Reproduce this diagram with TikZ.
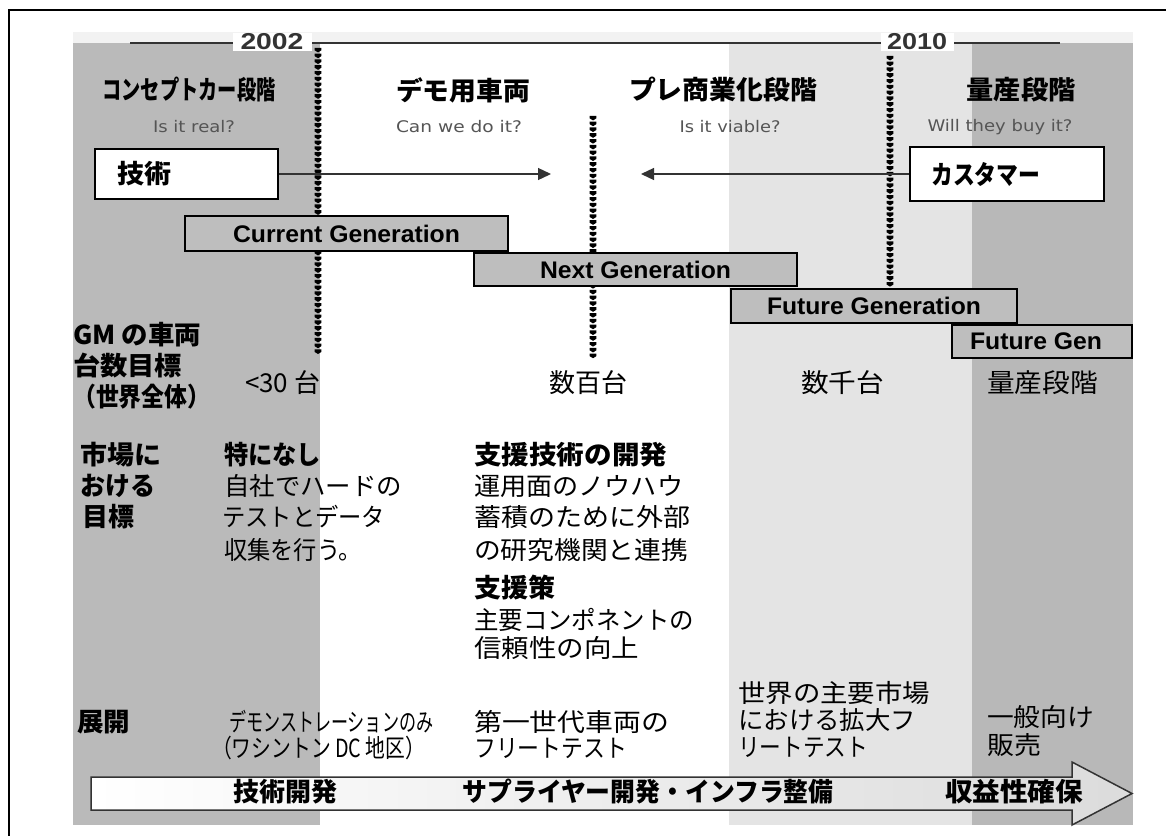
\documentclass[tikz,border=0pt]{standalone}
\usepackage{fontspec}
\setmainfont{Noto Sans CJK JP}
\newfontfamily\latf{Liberation Sans}
\newfontfamily\subf{DejaVu Sans}
\usetikzlibrary{decorations.markings,arrows.meta}
\newcommand\fw[2]{\resizebox{#1pt}{\height}{#2}}
\definecolor{dgray}{HTML}{BABABA}
\definecolor{rgray}{HTML}{B8B8B8}
\definecolor{lgray}{HTML}{E4E4E4}
\definecolor{stripc}{HTML}{F2F2F2}
\definecolor{gengray}{HTML}{BEBEBE}
\definecolor{subgray}{HTML}{555555}
\definecolor{linegray}{HTML}{333333}
\tikzset{
  hdr/.style={inner sep=0pt, font=\fontsize{26}{26}\selectfont\bfseries},
  sub/.style={inner sep=0pt, font=\subf\fontsize{16}{16}\selectfont, text=subgray},
  keybox/.style={draw=black, line width=1.5pt, fill=white, inner sep=0pt},
  gen/.style={draw=black, line width=1.5pt, fill=gengray, inner sep=0pt,
    font=\latf\bfseries\fontsize{24}{24}\selectfont},
  rowb/.style={inner sep=0pt, anchor=west, font=\fontsize{26}{26}\selectfont\bfseries},
  rown/.style={inner sep=0pt, anchor=west, font=\fontsize{25}{25}\selectfont},
  val/.style={inner sep=0pt, font=\fontsize{26}{26}\selectfont},
  yearlbl/.style={fill=white, inner sep=0pt, minimum height=18pt,
    font=\latf\bfseries\fontsize{23}{23}\selectfont, text=linegray},
  conn/.style={line width=1.3pt, draw=linegray, -{Triangle[length=13pt,width=12pt]}},
  vdots/.style={postaction={decorate}, decoration={markings,
    mark=between positions 0 and 1 step 5.8pt with {\fill[black] (-2.2pt,-3.3pt) -- (-2.2pt,3.3pt) -- (0.4pt,3.3pt) -- (2.4pt,0pt) -- (0.4pt,-3.3pt) -- cycle;}}},
  bigarrow/.style={draw=linegray, line width=1.5pt, left color=white, right color=black!14},
}
\begin{document}
\begin{tikzpicture}[x=1pt,y=-1pt]
\useasboundingbox (0,0) rectangle (1166,836);
% frame
\draw[line width=2pt] (1166,10) -- (9,10) -- (9,836);
% background panel
\fill[stripc] (73,32) rectangle (1133,43);
\fill[dgray] (73,43) rectangle (320,825);
\fill[white] (320,43) rectangle (729,825);
\fill[lgray] (729,43) rectangle (972,825);
\fill[rgray] (972,43) rectangle (1133,825);
% timeline
\coordinate (tl1) at (130,43);
\coordinate (tl2) at (1060,43);
\draw[line width=1.8pt, linegray] (tl1) -- (tl2);
\node[yearlbl, minimum width=79pt] (y2002) at (272,42) {\fw{63}{2002}};
\node[yearlbl, minimum width=73pt] (y2010) at (917,42) {\fw{60}{2010}};
% dotted separators
\coordinate (d1a) at (318,50);  \coordinate (d1b) at (318,353);
\coordinate (d2a) at (593,118); \coordinate (d2b) at (593,357);
\coordinate (d3a) at (890,58);  \coordinate (d3b) at (890,289);
\path[vdots] (d1a) -- (d1b);
\path[vdots] (d2a) -- (d2b);
\path[vdots] (d3a) -- (d3b);
% headers
\node[hdr] (h1) at (189,90) {\fw{173}{コンセプトカー段階}};
\node[hdr] (h2) at (463,90) {\fw{134}{デモ用車両}};
\node[hdr] (h3) at (723,90) {\fw{188}{プレ商業化段階}};
\node[hdr] (h4) at (1021,90) {\fw{109}{量産段階}};
\node[sub] (s1) at (194,127) {\fw{82}{Is it real?}};
\node[sub] (s2) at (459,127) {\fw{126}{Can we do it?}};
\node[sub] (s3) at (730,127) {\fw{101}{Is it viable?}};
\node[sub] (s4) at (1000,127) {\fw{145}{Will they buy it?}};
% key boxes and arrows
\node[keybox, minimum width=183pt, minimum height=50pt] (tech) at (186.5,174) {};
\node[rowb] (techt) at (117,174) {\fw{54}{技術}};
\node[keybox, minimum width=194pt, minimum height=54pt] (cust) at (1007,174) {};
\node[rowb] (custt) at (931,174) {\fw{109}{カスタマー}};
\coordinate (tip1) at (551,174);
\coordinate (tip2) at (641,174);
\draw[conn] (tech.east) -- (tip1);
\draw[conn] (cust.west) -- (tip2);
% generation boxes
\node[gen, minimum width=323pt, minimum height=35pt] (cur) at (346.5,233.5) {\fw{227}{Current Generation}};
\node[gen, minimum width=323pt, minimum height=33pt] (nxt) at (635.5,269.5) {\fw{191}{Next Generation}};
\node[gen, minimum width=286pt, minimum height=34pt] (fut) at (874,306) {\fw{214}{Future Generation}};
\node[gen, minimum width=180pt, minimum height=33pt] (futg) at (1042,341.5) {\hspace*{-12pt}\fw{132}{Future Gen}};
% GM row
\node[rowb] (g1) at (73,335) {\fw{128}{GM の車両}};
\node[rowb] (g2) at (73,366) {\fw{109}{台数目標}};
\node[rowb] (g3) at (73,397) {\fw{137}{（世界全体）}};
\node[val] (v1) at (282.5,383) {\fw{75}{<30 台}};
\node[val] (v2) at (588,383) {\fw{78}{数百台}};
\node[val] (v3) at (842.5,383) {\fw{83}{数千台}};
\node[val] (v4) at (1042.5,383) {\fw{111}{量産段階}};
% market row
\node[rowb] (m1) at (80,455) {\fw{81}{市場に}};
\node[rowb] (m2) at (80,486) {\fw{75}{おける}};
\node[rowb] (m3) at (82,517) {\fw{52}{目標}};
\node[rowb] (t1) at (224,455) {\fw{97}{特になし}};
\node[rown] (t2) at (224,486) {\fw{178}{自社でハードの}};
\node[rown] (t3) at (222,517) {\fw{163}{テストとデータ}};
\node[rown] (t4) at (224,550) {\fw{138}{収集を行う。}};
\node[rowb] (p1) at (474,455) {\fw{193}{支援技術の開発}};
\node[rown] (p2) at (474,486) {\fw{209}{運用面のノウハウ}};
\node[rown] (p3) at (474,517) {\fw{216}{蓄積のために外部}};
\node[rown] (p4) at (474,550) {\fw{214}{の研究機関と連携}};
\node[rowb] (p5) at (474,588) {\fw{81}{支援策}};
\node[rown] (p6) at (474,620) {\fw{220}{主要コンポネントの}};
\node[rown] (p7) at (474,648) {\fw{165}{信頼性の向上}};
% deployment row
\node[rowb] (e0) at (77,722) {\fw{53}{展開}};
\node[rown] (e1) at (229,722) {\fw{204}{デモンストレーションのみ}};
\node[rown] (e2) at (212,748) {\fw{213}{（ワシントン DC 地区）}};
\node[rown] (e3) at (474,722) {\fw{195}{第一世代車両の}};
\node[rown] (e4) at (474,748) {\fw{153}{フリートテスト}};
\node[rown] (e5) at (738,693) {\fw{192}{世界の主要市場}};
\node[rown] (e6) at (738,720) {\fw{178}{における拡大フ}};
\node[rown] (e7) at (738,747) {\fw{130}{リートテスト}};
\node[rown] (e8) at (987,717) {\fw{107}{一般向け}};
\node[rown] (e9) at (987,745) {\fw{54}{販売}};
% bottom arrow
\draw[bigarrow] (91,777) -- (1072,777) -- (1072,762) -- (1132,793.5) -- (1072,825) -- (1072,810) -- (91,810) -- cycle;
\node[hdr] (b1) at (285,792) {\fw{104}{技術開発}};
\node[hdr] (b2) at (648,792) {\fw{371}{サプライヤー開発・インフラ整備}};
\node[hdr] (b3) at (1014,792) {\fw{138}{収益性確保}};
\end{tikzpicture}
\end{document}
